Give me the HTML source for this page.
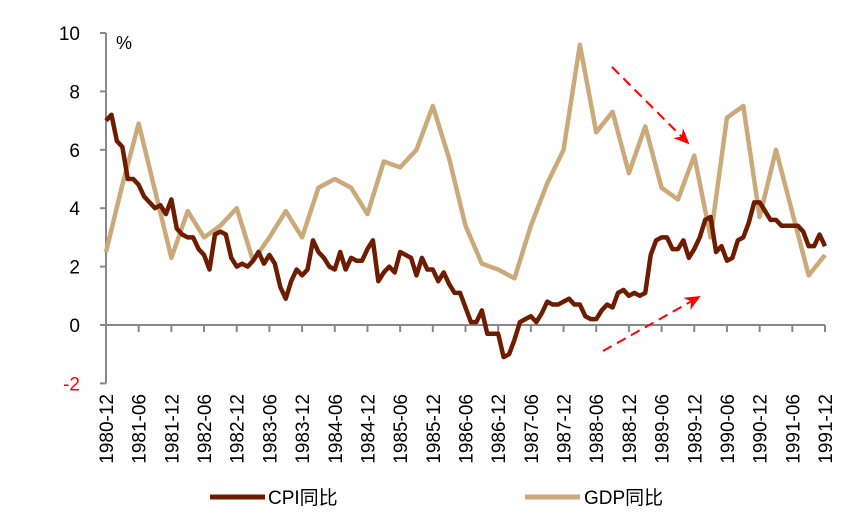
<!DOCTYPE html>
<html><head><meta charset="utf-8"><style>
body{margin:0;background:#fff;}
svg{display:block;font-family:"Liberation Sans","Noto Sans CJK SC",sans-serif;}
</style></head><body>
<svg id="chart" width="859" height="520" viewBox="0 0 859 520">
<defs><marker id="ah" markerWidth="16" markerHeight="14" refX="14" refY="7" orient="auto" markerUnits="userSpaceOnUse"><path d="M0,0 L16,7 L0,14 L5,7 Z" fill="#ff0000"/></marker></defs>
<g id="axes"></g>
<g id="series"></g>
<text x="116" y="49" font-size="18">%</text>
<line x1="612" y1="67" x2="688" y2="143" stroke="#ff0000" stroke-width="2" stroke-dasharray="10,6" marker-end="url(#ah)"/>
<line x1="603" y1="351" x2="699" y2="297" stroke="#ff0000" stroke-width="2" stroke-dasharray="10,6" marker-end="url(#ah)"/>
<g>
<line x1="210" y1="497" x2="265" y2="497" stroke="#6e1c00" stroke-width="5"/>
<text x="268" y="504" font-size="19">CPI同比</text>
<line x1="525" y1="497" x2="580" y2="497" stroke="#cba97a" stroke-width="5"/>
<text x="584" y="504" font-size="19">GDP同比</text>
</g>
</svg>
<script>
const xLabels=["1980-12","1981-06","1981-12","1982-06","1982-12","1983-06","1983-12","1984-06","1984-12","1985-06","1985-12","1986-06","1986-12","1987-06","1987-12","1988-06","1988-12","1989-06","1989-12","1990-06","1990-12","1991-06","1991-12"];
const yTicks=[-2,0,2,4,6,8,10];
const cpiValues=[7.0,7.2,6.3,6.1,5.0,5.0,4.8,4.4,4.2,4.0,4.1,3.8,4.3,3.3,3.1,3.0,3.0,2.6,2.4,1.9,3.1,3.2,3.1,2.3,2.0,2.1,2.0,2.2,2.5,2.1,2.4,2.1,1.3,0.9,1.5,1.9,1.7,1.9,2.9,2.5,2.3,2.0,1.9,2.5,1.9,2.3,2.2,2.2,2.6,2.9,1.5,1.8,2.0,1.8,2.5,2.4,2.3,1.7,2.3,1.9,1.9,1.5,1.8,1.4,1.1,1.1,0.6,0.1,0.1,0.5,-0.3,-0.3,-0.3,-1.1,-1.0,-0.5,0.1,0.2,0.3,0.1,0.4,0.8,0.7,0.7,0.8,0.9,0.7,0.7,0.3,0.2,0.2,0.5,0.7,0.6,1.1,1.2,1.0,1.1,1.0,1.1,2.4,2.9,3.0,3.0,2.6,2.6,2.9,2.3,2.6,3.0,3.6,3.7,2.5,2.7,2.2,2.3,2.9,3.0,3.5,4.2,4.2,3.9,3.6,3.6,3.4,3.4,3.4,3.4,3.2,2.7,2.7,3.1,2.7];
const gdpValues=[2.5,4.8,6.9,4.6,2.3,3.9,3.0,3.4,4.0,2.2,3.0,3.9,3.0,4.7,5.0,4.7,3.8,5.6,5.4,6.0,7.5,5.7,3.4,2.1,1.9,1.6,3.4,4.85,6.0,9.6,6.6,7.3,5.2,6.8,4.7,4.3,5.8,3.0,7.1,7.5,3.7,6.0,3.85,1.7,2.4];
const NS="http://www.w3.org/2000/svg";
const x0=106,x1=825,y0=325,pxPerUnit=29.2,nMonths=132;
const xm=i=>x0+(x1-x0)*i/nMonths;
const ys=v=>y0-v*pxPerUnit;
const axes=document.getElementById('axes'),series=document.getElementById('series');
function mk(tag,attrs,parent){const e=document.createElementNS(NS,tag);for(const k in attrs)e.setAttribute(k,attrs[k]);parent.appendChild(e);return e;}
const ya=mk('line',{x1:x0,y1:ys(10),x2:x0,y2:ys(-2),stroke:'#888','stroke-width':2},axes);


yTicks.forEach(v=>{
 const t=mk('line',{x1:x0-6,y1:ys(v),x2:x0,y2:ys(v),stroke:'#888','stroke-width':2},axes);
 
 
 const l=mk('text',{x:80,y:ys(v)+7,'font-size':19,'text-anchor':'end',fill:v<0?'#ff0000':'#000'},axes);
 l.textContent=String(v);
 
 
});
const xa=mk('line',{x1:x0,y1:y0,x2:x1,y2:y0,stroke:'#888','stroke-width':2},axes);


xLabels.forEach((s,k)=>{
 const x=xm(k*6);
 const t=mk('line',{x1:x,y1:y0,x2:x,y2:y0+7,stroke:'#888','stroke-width':2},axes);
 
 
 const l=mk('text',{x:0,y:0,'font-size':19,'text-anchor':'end',transform:`translate(${x+7},394) rotate(-90)`},axes);
 l.textContent=s;
 
 
});
const gp=mk('polyline',{points:gdpValues.map((v,i)=>xm(i*3)+','+ys(v)).join(' '),fill:'none',stroke:'#cba97a','stroke-width':4.5,'stroke-linejoin':'round'},series);


const cp=mk('polyline',{points:cpiValues.map((v,i)=>xm(i)+','+ys(v)).join(' '),fill:'none',stroke:'#6e1c00','stroke-width':4.5,'stroke-linejoin':'round'},series);


</script>
</body></html>
